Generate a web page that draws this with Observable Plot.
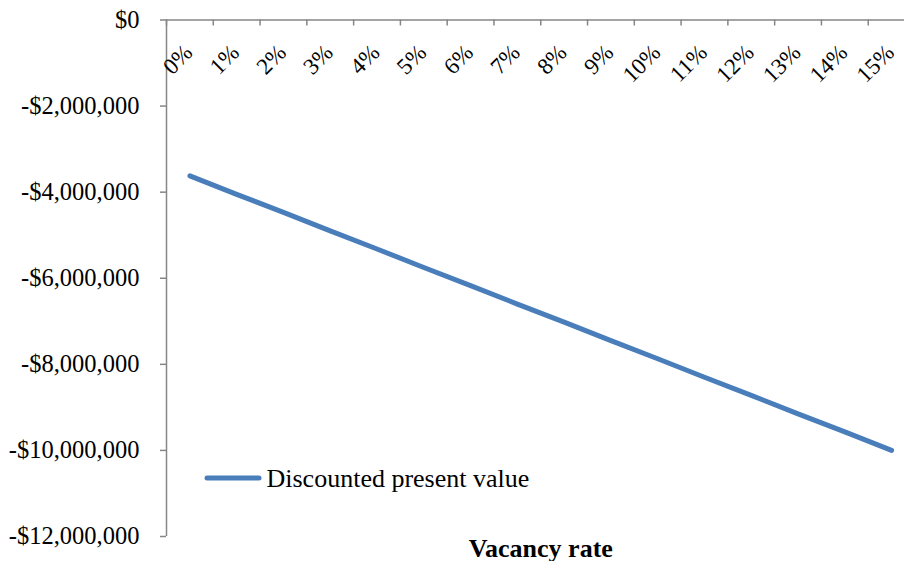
<!DOCTYPE html>
<html>
<head>
<meta charset="utf-8">
<script src="https://cdn.jsdelivr.net/npm/d3@7"></script>
<script src="https://cdn.jsdelivr.net/npm/@observablehq/plot@0.6"></script>
<style>
  html, body { margin: 0; padding: 0; background: #fff; }
  #chart { position: relative; width: 904px; height: 561px; }
</style>
</head>
<body>
<div id="chart"></div>
<script>
// Categories (x axis) and series values (y axis)
const categories = ["0%", "1%", "2%", "3%", "4%", "5%", "6%", "7%", "8%", "9%", "10%", "11%", "12%", "13%", "14%", "15%"];
const discountedPV = [-3620000, -4050000, -4470000, -4900000, -5320000, -5750000, -6170000, -6600000,
                      -7020000, -7450000, -7870000, -8300000, -8720000, -9150000, -9570000, -10000000];
const yTicks = [0, -2000000, -4000000, -6000000, -8000000, -10000000, -12000000];
const seriesName = "Discounted present value";
const xTitle = "Vacancy rate";

const data = categories.map((c, i) => ({i, label: c, value: discountedPV[i]}));
const boundaries = d3.range(categories.length + 1).map(k => k - 0.5);

const W = 904, H = 561;
const mLeft = 166, mRight = -10.5, mTop = 19.5, mBottom = 25;
const axisGray = "#868686";
const lineBlue = "#4a7ebb";
const font = "'Liberation Serif', 'Times New Roman', serif";
const fmt = d => d < 0 ? "-$" + d3.format(",")(-d) : "$" + d3.format(",")(d);

const plot = Plot.plot({
  width: W,
  height: H,
  marginLeft: mLeft,
  marginRight: mRight,
  marginTop: mTop,
  marginBottom: mBottom,
  style: {fontFamily: font, fontSize: "22px", background: "white", color: "black", overflow: "visible"},
  x: {type: "linear", domain: [-0.5, categories.length - 0.5], axis: null},
  y: {domain: [-12000000, 0], axis: null},
  marks: [
    // y axis line
    Plot.ruleX([-0.5], {stroke: axisGray, strokeWidth: 1.5}),
    // x axis line (at y = 0, top)
    Plot.ruleY([0], {stroke: axisGray, strokeWidth: 1.5}),
    // x ticks pointing down from the axis line
    Plot.ruleX(boundaries, {x: d => d, stroke: axisGray, strokeWidth: 1.5,
      insetBottom: (H - mTop - mBottom) - 6}),
    // y ticks pointing left from the axis line
    Plot.ruleY(yTicks, {y: d => d, x1: -0.5, x2: -0.5, insetLeft: -6, stroke: axisGray, strokeWidth: 1.5}),
    // y tick labels
    Plot.text(yTicks, {y: d => d, frameAnchor: "left", textAnchor: "end", dx: -27,
      text: fmt, fontSize: 24.5, fill: "black"}),
    // x tick labels, rotated
    Plot.text(data, {x: "i", y: () => 0, text: "label", rotate: -45, textAnchor: "end",
      lineAnchor: "bottom", dx: 4, dy: 34, fontSize: 23, fill: "black"}),
    // series line
    Plot.line(data, {x: "i", y: "value", stroke: lineBlue, strokeWidth: 5,
      strokeLinecap: "round", strokeLinejoin: "round"}),
    // legend text
    Plot.text([seriesName], {frameAnchor: "bottom-left", text: d => d, textAnchor: "start",
      lineAnchor: "bottom", dx: 100, dy: -50, fontSize: 26, fill: "black"}),
    // x axis title
    Plot.text([xTitle], {x: () => (categories.length - 1) / 2, frameAnchor: "bottom", text: d => d,
      lineAnchor: "bottom", dy: 20, fontSize: 26, fontWeight: "bold", fill: "black"})
  ]
});

document.getElementById("chart").appendChild(plot);

// legend swatch
d3.select(plot).append("line")
  .attr("x1", 207).attr("x2", 259).attr("y1", 478).attr("y2", 478)
  .attr("stroke", lineBlue).attr("stroke-width", 5).attr("stroke-linecap", "round");
</script>
</body>
</html>
